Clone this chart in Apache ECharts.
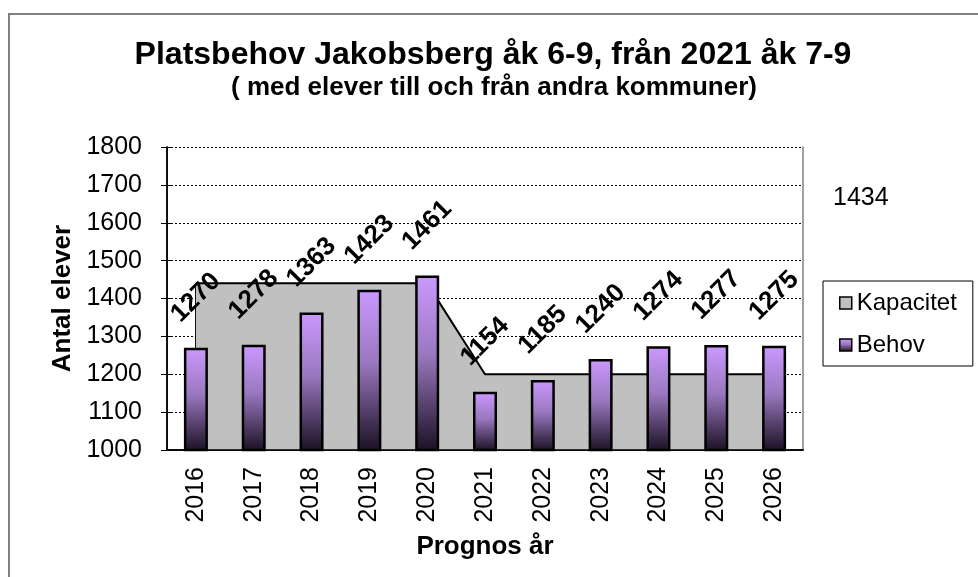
<!DOCTYPE html>
<html>
<head>
<meta charset="utf-8">
<script src="https://cdn.jsdelivr.net/npm/echarts@6/dist/echarts.min.js"></script>
<style>
  html, body { margin: 0; padding: 0; background: #fff; }
  #chart { width: 978px; height: 577px; }
</style>
</head>
<body>
<div id="chart"></div>
<script>
const years = ['2016', '2017', '2018', '2019', '2020', '2021', '2022', '2023', '2024', '2025', '2026']
const kapacitet = [1440, 1440, 1440, 1440, 1440, 1200, 1200, 1200, 1200, 1200, 1200]
const behov = [1270, 1278, 1363, 1423, 1461, 1154, 1185, 1240, 1274, 1277, 1275]
const yTicks = { min: 1000, max: 1800, step: 100 }
const extraLabel = '1434'

const font = 'Liberation Sans, Arial, sans-serif'
const barGradient = new echarts.graphic.LinearGradient(0, 0, 0, 1, [
  { offset: 0, color: '#cc99ff' },
  { offset: 0.45, color: '#9a78c0' },
  { offset: 1, color: '#1a1022' }
])

const myChart = echarts.init(document.getElementById('chart'))

myChart.setOption({
  animation: false,
  textStyle: { fontFamily: font },
  title: [
    {
      text: 'Platsbehov Jakobsberg åk 6-9, från 2021 åk 7-9',
      left: 493, top: 39, padding: 0, textAlign: 'center',
      textStyle: { fontSize: 32, fontWeight: 'bold', color: '#000', lineHeight: 32, fontFamily: font }
    },
    {
      text: '( med elever till och från andra kommuner)',
      left: 494, top: 75, padding: 0, textAlign: 'center',
      textStyle: { fontSize: 26, fontWeight: 'bold', color: '#000', lineHeight: 26, fontFamily: font }
    }
  ],
  graphic: [
    {
      type: 'rect', silent: true,
      shape: { x: 9, y: 14, width: 1000, height: 600 },
      style: { fill: 'none', stroke: '#808080', lineWidth: 2 }
    },
    {
      type: 'text', x: 833, y: 198,
      style: { text: extraLabel, font: '25px ' + font, fill: '#000', verticalAlign: 'middle' }
    }
  ],
  legend: {
    orient: 'vertical',
    left: 823, top: 281,
    padding: [10, 16, 9, 16],
    itemGap: 18,
    itemWidth: 12, itemHeight: 12,
    borderColor: '#000', borderWidth: 1,
    backgroundColor: '#fff',
    textStyle: { fontSize: 24, color: '#000', fontFamily: font, lineHeight: 24 },
    data: [
      { name: 'Kapacitet', icon: 'rect', itemStyle: { color: '#c0c0c0', borderColor: '#000', borderWidth: 1.5 } },
      { name: 'Behov', icon: 'rect', itemStyle: { color: barGradient, borderColor: '#000', borderWidth: 1.5 } }
    ]
  },
  grid: { left: 167, right: 175, top: 147, bottom: 127 },
  xAxis: [
    {
      type: 'category',
      data: years,
      name: 'Prognos år',
      nameLocation: 'middle',
      nameGap: 84,
      nameTextStyle: { fontSize: 26, fontWeight: 'bold', color: '#000', fontFamily: font },
      axisLine: { lineStyle: { color: '#000', width: 1.5 } },
      axisTick: { length: 7, lineStyle: { color: '#000' } },
      axisLabel: { rotate: 90, margin: 17, fontSize: 25, color: '#000', fontFamily: font }
    },
    {
      type: 'category',
      data: years,
      position: 'bottom',
      z: 10,
      axisLine: { show: true, lineStyle: { color: '#000', width: 1.5 } },
      axisTick: { inside: true, length: 8, lineStyle: { color: '#000' } },
      axisLabel: { show: false }
    }
  ],
  yAxis: [
    {
      type: 'value',
      min: yTicks.min, max: yTicks.max, interval: yTicks.step,
      name: 'Antal elever',
      nameLocation: 'middle',
      nameGap: 87,
      nameTextStyle: { fontSize: 26, fontWeight: 'bold', color: '#000', fontFamily: font },
      axisLine: { show: true, lineStyle: { color: '#000', width: 1.5 } },
      axisTick: { show: true, length: 6, lineStyle: { color: '#000' } },
      axisLabel: { margin: 25, fontSize: 25, color: '#000', fontFamily: font, formatter: v => String(v) },
      splitLine: { lineStyle: { color: '#000', width: 1, type: [2, 2] } }
    },
    {
      type: 'value',
      min: yTicks.min, max: yTicks.max, interval: yTicks.step,
      position: 'left',
      z: 10,
      axisLine: { show: true, lineStyle: { color: '#000', width: 1.5 } },
      axisTick: { show: true, inside: true, length: 4, lineStyle: { color: '#000' } },
      axisLabel: { show: false },
      splitLine: { show: false }
    },
    {
      type: 'value',
      min: yTicks.min, max: yTicks.max, interval: yTicks.step,
      position: 'right',
      axisLine: { show: true, lineStyle: { color: '#808080', width: 1.5 } },
      axisTick: { show: false },
      axisLabel: { show: false },
      splitLine: { show: false }
    }
  ],
  series: [
    {
      type: 'line',
      name: 'Kapacitet',
      data: kapacitet,
      symbol: 'none',
      z: 2,
      lineStyle: { color: '#000', width: 2 },
      itemStyle: { color: '#c0c0c0' },
      areaStyle: { color: '#c0c0c0', opacity: 1, origin: 'start' },
      markLine: {
        silent: true,
        symbol: 'none',
        z: 2,
        label: { show: false },
        lineStyle: { color: '#000', width: 2, type: 'solid' },
        data: [
          [{ coord: [years[0], yTicks.min] }, { coord: [years[0], kapacitet[0]] }],
          [{ coord: [years[years.length - 1], yTicks.min] }, { coord: [years[years.length - 1], kapacitet[kapacitet.length - 1]] }]
        ]
      }
    },
    {
      type: 'bar',
      name: 'Behov',
      data: behov,
      barWidth: 24,
      z: 8,
      itemStyle: { color: barGradient, borderColor: '#000', borderWidth: 2.5 },
      label: {
        show: true,
        position: 'top',
        distance: 50,
        rotate: 45,
        align: 'center',
        verticalAlign: 'middle',
        fontSize: 26,
        fontWeight: 'bold',
        color: '#000',
        fontFamily: font
      }
    }
  ]
})

window.addEventListener('resize', () => {
  myChart.resize()
})
</script>
</body>
</html>
